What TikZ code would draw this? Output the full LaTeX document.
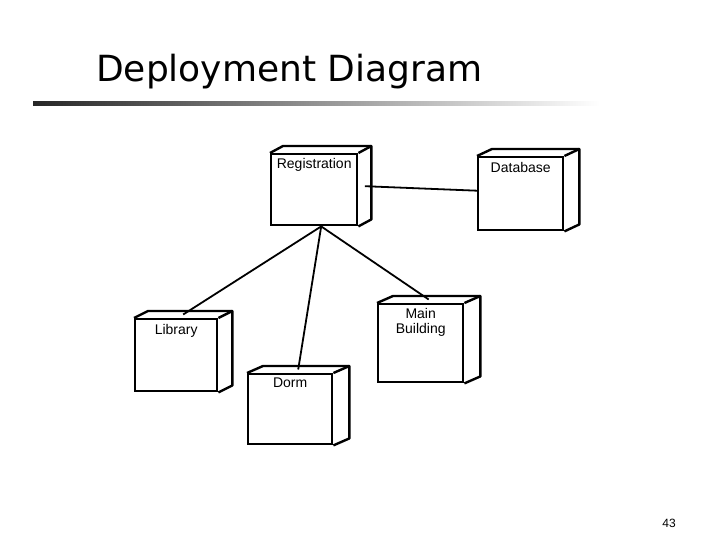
\documentclass[tikz,border=0pt]{standalone}
\usepackage{fontspec}
\setmainfont{Liberation Sans}
\newfontfamily\titlefont{DejaVu Sans}
\usetikzlibrary{calc,positioning}

% back faces of a UML node: #1 = node name, #2 = depth
\newcommand{\nodecube}[2]{%
  \draw[cube] (#1.north west) -- ++(#2,-7) -- ($(#1.north east)+(#2,-7)$)
    -- ($(#1.south east)+(#2,-7)$) -- (#1.south east);
  \draw[cube] (#1.north east) -- ++(#2,-7);
  \coordinate (#1-top) at ($(#1.north)+(0.5*#2,-3.5)$);
  \coordinate (#1-side) at ($(#1.east)+(0.5*#2,-3.5)$);}

\begin{document}
\begin{tikzpicture}[x=1pt,y=-1pt,
  front/.style={draw,line width=2.4pt,anchor=north west,inner sep=0pt},
  cube/.style={line width=2.4pt,line join=round},
  lbl/.style={font=\fontsize{14}{15.5}\selectfont,inner sep=0pt,align=center},
  link/.style={line width=1.8pt}]
\useasboundingbox (0,0) rectangle (720,540);
\node[anchor=base west,inner sep=0pt,font=\titlefont\fontsize{36}{40}\selectfont] (title) at (96,82) {Deployment Diagram};
\shade[left color=black!85,right color=white] (33,102) rectangle (600,106);
\node[front,minimum width=86pt,minimum height=71pt] (reg) at (270,153) {};
\node[front,minimum width=85pt,minimum height=73pt] (db) at (477,156) {};
\node[front,minimum width=82pt,minimum height=72pt] (lib) at (134,318) {};
\node[front,minimum width=85pt,minimum height=78pt] (main) at (377,303) {};
\node[front,minimum width=84pt,minimum height=70pt] (dorm) at (247,373) {};
\nodecube{reg}{13}
\nodecube{db}{15}
\nodecube{lib}{14}
\nodecube{main}{16}
\nodecube{dorm}{16}
\node[lbl,below=5pt of reg.north] (reglbl) {Registration};
\node[lbl,below=6pt of db.north] (dblbl) {Database};
\node[lbl,below=6pt of lib.north] (liblbl) {Library};
\node[lbl,below=5pt of main.north] (mainlbl) {Main\\Building};
\node[lbl,below=5pt of dorm.north] (dormlbl) {Dorm};
\coordinate (hub) at ([xshift=7pt]reg.south);
\draw[link] (reg-side) -- ([yshift=3pt]db.west);
\draw[link] (hub) -- (lib-top);
\draw[link] (hub) -- (dorm-top);
\draw[link] (hub) -- (main-top);
\node[anchor=base east,inner sep=0pt,font=\fontsize{12}{12}\selectfont] (page) at (676,527) {43};
\end{tikzpicture}
\end{document}
